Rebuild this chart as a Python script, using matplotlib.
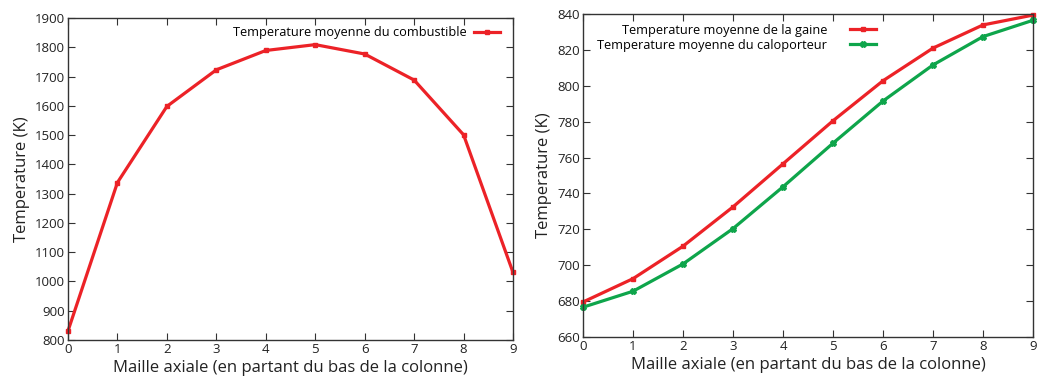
import matplotlib
matplotlib.use("Agg")
import matplotlib.pyplot as plt

plt.rcParams['font.family'] = ['Open Sans', 'DejaVu Sans']

# Data
maille = [0, 1, 2, 3, 4, 5, 6, 7, 8, 9]
t_combustible = [831, 1338, 1598, 1723, 1789, 1809, 1777, 1688, 1501, 1031]
t_gaine = [679.5, 692.5, 710.6, 732.5, 756.5, 780.5, 802.8, 821, 833.9, 839.4]
t_caloporteur = [676.6, 685.5, 700.7, 720.4, 743.7, 768, 791.5, 811.6, 827.4, 836.5]

left_yticks = [800, 900, 1000, 1100, 1200, 1300, 1400, 1500, 1600, 1700, 1800, 1900]
right_yticks = [660, 680, 700, 720, 740, 760, 780, 800, 820, 840]

lab_comb = "Temperature moyenne du combustible"
lab_gaine = "Temperature moyenne de la gaine"
lab_calo = "Temperature moyenne du caloporteur"
xlabel = "Maille axiale (en partant du bas de la colonne)"
ylabel = "Temperature (K)"

RED = "#ec2227"
GREEN = "#0ea54b"
SPINE = "#333333"

W, H = 1037, 378
fig = plt.figure(figsize=(W/100, H/100), dpi=100)
ax1 = fig.add_axes([68/W, (H-340)/H, (513-68)/W, (340-18)/H])
ax2 = fig.add_axes([583/W, (H-337)/H, (1033-583)/W, (337-14)/H])

def style(ax):
    for s in ax.spines.values():
        s.set_color(SPINE)
        s.set_linewidth(1.0)
    ax.tick_params(direction='in', top=True, right=True, length=5, width=0.8,
                   color=SPINE, labelsize=9.5, labelcolor="#222222", pad=2)
    ax.set_xlim(0, 9)
    ax.set_xticks(maille)
    ax.set_xlabel(xlabel, fontsize=12, color="#222222", labelpad=3)
    ax.set_ylabel(ylabel, fontsize=12, color="#222222", labelpad=4)

ax1.plot(maille, t_combustible, color=RED, lw=2.3, marker='s', ms=2.5, clip_on=False,
         label=lab_comb)
ax1.set_ylim(800, 1900)
ax1.set_yticks(left_yticks)
style(ax1)
ax1.legend(loc='upper right', frameon=False, markerfirst=False, fontsize=9.2,
           handlelength=2.0, borderaxespad=0.1, handletextpad=0.6,
           bbox_to_anchor=(0.985, 0.995))

ax2.plot(maille, t_gaine, color=RED, lw=2.3, marker='s', ms=2.5, clip_on=False,
         label=lab_gaine)
ax2.plot(maille, t_caloporteur, color=GREEN, lw=2.3, marker='X', ms=4, clip_on=False,
         label=lab_calo)
ax2.set_ylim(660, 840)
ax2.set_yticks(right_yticks)
style(ax2)
ax2.legend(loc='upper left', frameon=False, markerfirst=False, fontsize=9.2,
           handlelength=2.0, borderaxespad=0.0, handletextpad=1.8, labelspacing=0.15,
           bbox_to_anchor=(0.02, 0.985))

fig.savefig("out.png", dpi=100)
